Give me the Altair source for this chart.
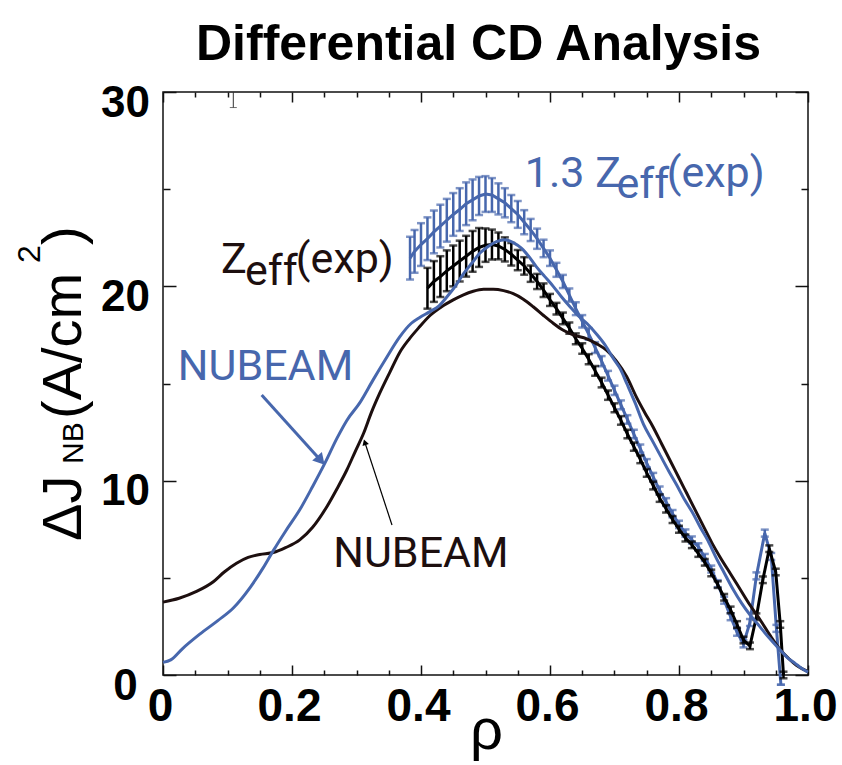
import altair as alt
import pandas as pd

# ---------------- data ----------------
nb_blue_rho = [0.0, 0.012, 0.03, 0.057, 0.085, 0.109, 0.135, 0.155, 0.171, 0.19, 0.212, 0.232, 0.251, 0.27,
               0.285, 0.305, 0.326, 0.346, 0.367, 0.385, 0.398, 0.414, 0.428, 0.44, 0.453, 0.466, 0.479, 0.491,
               0.504, 0.517, 0.53, 0.543, 0.556, 0.568, 0.579, 0.592, 0.605, 0.618, 0.631, 0.645, 0.657, 0.672,
               0.685, 0.698, 0.709, 0.719, 0.732, 0.745, 0.758, 0.771, 0.784, 0.796, 0.809, 0.822, 0.833, 0.845,
               0.858, 0.871, 0.884, 0.897, 0.91, 0.925, 0.94, 0.955, 0.968, 0.98, 0.99, 1.0]
nb_blue_j = [0.65, 0.78, 1.35, 2.1, 2.8, 3.45, 4.5, 5.5, 6.4, 7.4, 8.5, 9.7, 10.9, 12.2,
             13.1, 14.0, 15.2, 16.3, 17.4, 18.1, 18.4, 18.7, 19.0, 19.45, 20.0, 20.65, 21.2, 21.7,
             22.05, 22.3, 22.4, 22.25, 21.95, 21.5, 21.0, 20.5, 20.0, 19.45, 18.95, 18.45, 18.1, 17.55,
             17.0, 16.3, 15.75, 15.0, 14.0, 12.9, 12.1, 11.3, 10.5, 9.8, 9.0, 8.3, 7.6, 6.9,
             6.0, 5.2, 4.4, 3.7, 3.1, 2.5, 1.9, 1.35, 0.9, 0.6, 0.35, 0.15]

nb_black_rho = [0.0, 0.025, 0.052, 0.078, 0.095, 0.114, 0.132, 0.15, 0.171, 0.19, 0.212, 0.232, 0.254, 0.27,
                0.285, 0.298, 0.311, 0.323, 0.336, 0.352, 0.367, 0.382, 0.396, 0.414, 0.432, 0.45, 0.465,
                0.481, 0.497, 0.512, 0.528, 0.543, 0.558, 0.574, 0.59, 0.605, 0.62, 0.636, 0.657, 0.672,
                0.688, 0.703, 0.719, 0.734, 0.747, 0.76, 0.773, 0.786, 0.799, 0.812, 0.825, 0.838, 0.851,
                0.864, 0.88, 0.895, 0.91, 0.926, 0.941, 0.957, 0.97, 0.982, 0.992, 1.0]
nb_black_j = [3.75, 3.95, 4.3, 4.8, 5.3, 5.75, 6.05, 6.2, 6.3, 6.55, 6.95, 7.6, 8.66, 9.6,
              10.55, 11.5, 12.44, 13.5, 14.5, 15.6, 16.6, 17.3, 17.85, 18.5, 18.95, 19.3, 19.55,
              19.75, 19.85, 19.85, 19.78, 19.62, 19.35, 18.95, 18.5, 18.1, 17.75, 17.5, 17.3, 17.05,
              16.7, 16.15, 15.35, 14.3, 13.5, 12.75, 11.9, 11.05, 10.2, 9.35, 8.5, 7.65, 6.8,
              6.05, 5.2, 4.4, 3.6, 2.83, 2.05, 1.3, 0.85, 0.5, 0.3, 0.17]

exp_black_rho = [0.41, 0.42, 0.43, 0.44, 0.45, 0.46, 0.47, 0.48, 0.49, 0.50,
                 0.51, 0.52, 0.53, 0.54, 0.55, 0.56, 0.57, 0.58, 0.59, 0.60,
                 0.61, 0.62, 0.63, 0.64, 0.65, 0.66, 0.67, 0.68, 0.69, 0.70,
                 0.71, 0.72, 0.73, 0.74, 0.75, 0.76, 0.77, 0.78, 0.79, 0.80,
                 0.81, 0.82, 0.83, 0.84, 0.85, 0.86, 0.87, 0.88, 0.89, 0.90,
                 0.91, 0.92, 0.93, 0.94, 0.95, 0.957, 0.962]
exp_black_j = [19.9, 20.25, 20.5, 20.8, 21.05, 21.3, 21.55, 21.8, 22.0, 22.12,
               22.15, 22.08, 21.9, 21.65, 21.35, 21.05, 20.65, 20.25, 19.8, 19.3,
               18.85, 18.35, 17.85, 17.3, 16.8, 16.25, 15.65, 15.05, 14.4, 13.75,
               13.1, 12.4, 11.75, 11.1, 10.4, 9.75, 9.1, 8.55, 8.0, 7.5,
               7.05, 6.7, 6.25, 5.8, 5.25, 4.65, 4.0, 3.35, 2.6, 1.8,
               1.5, 3.0, 4.9, 6.5, 5.3, 2.6, 0.0]
exp_black_err = [1.05, 1.05, 1.05, 1.05, 1.05, 1.05, 1.05, 1.05, 1.0, 0.86,
                 0.77, 0.69, 0.62, 0.58, 0.52, 0.45, 0.42, 0.39, 0.35, 0.31,
                 0.3, 0.3, 0.29, 0.28, 0.27, 0.26, 0.25, 0.25, 0.24, 0.23,
                 0.22, 0.22, 0.21, 0.2, 0.2, 0.2, 0.19, 0.19, 0.18, 0.18,
                 0.18, 0.17, 0.17, 0.17, 0.17, 0.17, 0.17, 0.17, 0.17, 0.17,
                 0.17, 0.17, 0.17, 0.17, 0.17, 0.17, 0.17]

exp_blue_rho = [0.383, 0.39, 0.40, 0.41, 0.42, 0.43, 0.44, 0.45, 0.46, 0.47,
                0.48, 0.49, 0.50, 0.51, 0.52, 0.53, 0.54, 0.55, 0.56, 0.57,
                0.58, 0.59, 0.60, 0.61, 0.62, 0.63, 0.64, 0.65, 0.66, 0.67,
                0.68, 0.69, 0.70, 0.71, 0.72, 0.73, 0.74, 0.75, 0.76, 0.77,
                0.78, 0.79, 0.80, 0.81, 0.82, 0.83, 0.84, 0.85, 0.86, 0.87,
                0.88, 0.89, 0.90, 0.91, 0.92, 0.933, 0.943, 0.951, 0.958]
exp_blue_j = [21.45, 21.8, 22.15, 22.45, 22.8, 23.1, 23.4, 23.7, 23.95, 24.25,
              24.45, 24.65, 24.75, 24.7, 24.5, 24.3, 24.0, 23.7, 23.3, 22.9,
              22.45, 21.95, 21.45, 20.85, 20.25, 19.55, 18.85, 18.2, 17.55, 16.85,
              16.15, 15.4, 14.65, 13.9, 13.15, 12.4, 11.65, 10.9, 10.2, 9.5,
              8.9, 8.3, 7.75, 7.3, 6.95, 6.6, 6.05, 5.45, 4.7, 3.85,
              3.0, 2.2, 1.6, 2.7, 5.1, 7.3, 6.1, 2.4, -0.5]
exp_blue_err = [1.1, 1.1, 1.1, 1.1, 1.1, 1.1, 1.1, 1.1, 1.1, 1.1,
                1.05, 0.98, 0.92, 0.87, 0.8, 0.75, 0.7, 0.69, 0.62, 0.57,
                0.52, 0.45, 0.4, 0.36, 0.34, 0.34, 0.33, 0.32, 0.3, 0.28,
                0.26, 0.25, 0.24, 0.23, 0.22, 0.22, 0.21, 0.21, 0.2, 0.2,
                0.2, 0.19, 0.19, 0.19, 0.18, 0.18, 0.18, 0.18, 0.18, 0.18,
                0.18, 0.18, 0.18, 0.18, 0.18, 0.18, 0.18, 0.18, 0.0]

stray_rho = [0.109]
stray_lo = [29.2]
stray_hi = [30.0]

x_tick_values = [0.0, 0.05, 0.1, 0.15, 0.2, 0.25, 0.3, 0.35, 0.4, 0.45, 0.5,
                 0.55, 0.6, 0.65, 0.7, 0.75, 0.8, 0.85, 0.9, 0.95, 1.0]
y_tick_values = [0, 5, 10, 15, 20, 25, 30]

title_text = ["Differential CD Analysis"]

# annotation anchors (data coordinates)
blue_arrow_rho = [0.153, 0.2447]
blue_arrow_j = [14.41, 11.04]
black_arrow_rho = [0.355, 0.3129]
black_arrow_j = [7.72, 11.98]

# ---------------- styling ----------------
BLUE = "#4767ad"
DARK = "#1d0f0f"
W, H = 645, 583
TICK_FONT = "Liberation Sans, Arial, sans-serif"
ANN_FONT = "Roboto, Open Sans, sans-serif"

x_scale = alt.Scale(domain=[0, 1], nice=False, zero=False)
y_scale = alt.Scale(domain=[0, 30], nice=False, zero=False)

MAJ_X = "abs(datum.value*5 - round(datum.value*5)) < 0.001"
MAJ_Y = "abs(datum.value/10 - round(datum.value/10)) < 0.001"

x_axis = alt.Axis(
    values=x_tick_values,
    labelExpr=f"{MAJ_X} ? (datum.value < 0.001 ? '0' : format(datum.value, '.1f')) : ''",
    tickSize={"expr": f"{MAJ_X} ? -10 : -5"},
    tickColor="#111111", tickWidth=1.5,
    domain=False, grid=False,
    labelFont=TICK_FONT, labelFontWeight="bold", labelFontSize=46, labelColor="black",
    labelPadding=19, labelOffset=-3, labelFlush=False, labelOverlap=False,
    title="ρ", titleFont=TICK_FONT, titleFontWeight="normal", titleFontSize=58,
    titleColor="black", titleX=323, titleY=73, titleBaseline="alphabetic", titleAlign="center",
)
y_axis = alt.Axis(
    values=y_tick_values,
    labelExpr=f"{MAJ_Y} ? datum.label : ''",
    tickSize={"expr": f"{MAJ_Y} ? -13 : -7"},
    tickColor="#111111", tickWidth=1.5,
    domain=False, grid=False,
    labelFont=TICK_FONT, labelFontWeight="bold", labelFontSize=44, labelColor="black",
    labelAlign="center", labelPadding=51, labelOffset=11, labelFlush=False, labelOverlap=False,
    title=None,
)
x_top_axis = alt.Axis(orient="top", values=x_tick_values, labels=False, domain=False, grid=False,
                      tickSize={"expr": f"{MAJ_X} ? -10 : -5"}, tickColor="#111111", tickWidth=1.5,
                      title=None)
y_right_axis = alt.Axis(orient="right", values=y_tick_values, labels=False, domain=False, grid=False,
                        tickSize={"expr": f"{MAJ_Y} ? -13 : -7"}, tickColor="#111111", tickWidth=1.5,
                        title=None)

X = alt.X("rho:Q", scale=x_scale, axis=x_axis)
Y = alt.Y("j:Q", scale=y_scale, axis=y_axis)

# ---------------- frames ----------------
df_nb_blue = pd.DataFrame({"rho": nb_blue_rho, "j": nb_blue_j})
df_nb_black = pd.DataFrame({"rho": nb_black_rho, "j": nb_black_j})
df_exp_black = pd.DataFrame({"rho": exp_black_rho, "j": exp_black_j, "err": exp_black_err})
df_exp_blue = pd.DataFrame({"rho": exp_blue_rho, "j": exp_blue_j, "err": exp_blue_err})
for d in (df_exp_black, df_exp_blue):
    d["lo"] = d["j"] - d["err"]
    d["hi"] = d["j"] + d["err"]
df_stray = pd.DataFrame({"rho": stray_rho, "lo": stray_lo, "hi": stray_hi})


def exp_series(df, color):
    base = alt.Chart(df)
    line = base.mark_line(color=color, strokeWidth=3).encode(x=X, y=Y)
    bars = base.mark_rule(color=color, strokeWidth=2.5).encode(
        x=X, y=alt.Y("lo:Q", scale=y_scale, axis=y_axis), y2="hi:Q")
    cap_lo = base.mark_tick(color=color, orient="horizontal", size=8, thickness=2.5).encode(
        x=X, y=alt.Y("lo:Q", scale=y_scale, axis=y_axis))
    cap_hi = base.mark_tick(color=color, orient="horizontal", size=8, thickness=2.5).encode(
        x=X, y=alt.Y("hi:Q", scale=y_scale, axis=y_axis))
    return [line, bars, cap_lo, cap_hi]


nb_black_line = alt.Chart(df_nb_black).mark_line(color=DARK, strokeWidth=3, interpolate="monotone").encode(x=X, y=Y)
nb_blue_line = alt.Chart(df_nb_blue).mark_line(color=BLUE, strokeWidth=3, interpolate="monotone").encode(x=X, y=Y)

stray = alt.Chart(df_stray).mark_rule(color="#333333", strokeWidth=1).encode(
    x=X, y=alt.Y("lo:Q", scale=y_scale, axis=y_axis), y2="hi:Q")
stray_cap = alt.Chart(df_stray).mark_tick(color="#333333", orient="horizontal", size=7, thickness=1).encode(
    x=X, y=alt.Y("lo:Q", scale=y_scale, axis=y_axis))

# arrows
df_barrow = pd.DataFrame({"rho": blue_arrow_rho, "j": blue_arrow_j})
df_karrow = pd.DataFrame({"rho": black_arrow_rho, "j": black_arrow_j})
blue_arrow = alt.Chart(df_barrow).mark_line(color=BLUE, strokeWidth=3).encode(x=X, y=Y)
blue_head = alt.Chart(df_barrow.iloc[[1]]).mark_point(
    shape="triangle-up", filled=True, color=BLUE, opacity=1, size=170, angle=138).encode(x=X, y=Y)
black_arrow = alt.Chart(df_karrow).mark_line(color="black", strokeWidth=1.2).encode(x=X, y=Y)
black_head = alt.Chart(df_karrow.iloc[[1]]).mark_point(
    shape="triangle-up", filled=True, color="black", opacity=1, size=45, angle=342).encode(x=X, y=Y)

# annotation texts
df_txt_blue = pd.DataFrame({
    "rho": [0.023, 0.561, 0.703, 0.781],
    "j": [15.18, 25.13, 24.53, 25.13],
    "t": ["NUBEAM", "1.3 Z", "eff", "(exp)"],
})
df_txt_black = pd.DataFrame({
    "rho": [0.264, 0.09, 0.127, 0.206],
    "j": [5.57, 20.7, 20.07, 20.7],
    "t": ["NUBEAM", "Z", "eff", "(exp)"],
})
txt_blue = alt.Chart(df_txt_blue).mark_text(
    align="left", baseline="alphabetic", font=ANN_FONT, fontSize=43, color=BLUE).encode(x=X, y=Y, text="t:N")
txt_black = alt.Chart(df_txt_black).mark_text(
    align="left", baseline="alphabetic", font=ANN_FONT, fontSize=43, color=DARK).encode(x=X, y=Y, text="t:N")

# y-axis title pieces (rotated), ΔJ_NB (A/cm²)
def ytitle(text, x, y, size):
    return alt.Chart(pd.DataFrame({"t": [text]})).mark_text(
        angle=270, align="left", baseline="alphabetic", font=TICK_FONT, fontSize=size, color="black"
    ).encode(x=alt.value(x), y=alt.value(y), text="t:N")

yt = [
    ytitle("ΔJ", -82, 449, 56),
    ytitle("NB", -80, 372, 30),
    ytitle("(A/cm", -82, 327, 56),
    ytitle("2", -123, 171, 32),
    ytitle(")", -82, 153, 56),
]

# chart title drawn as a text mark above the plot area
title_mark = alt.Chart(pd.DataFrame({"t": title_text})).mark_text(
    align="center", baseline="alphabetic", font=TICK_FONT, fontSize=50, fontWeight="bold", color="black"
).encode(x=alt.value(315.5), y=alt.value(-32), text="t:N")

main = alt.layer(
    *exp_series(df_exp_blue, BLUE),
    *exp_series(df_exp_black, "black"),
    nb_black_line, nb_blue_line,
    stray, stray_cap,
    blue_arrow, blue_head, black_arrow, black_head,
    txt_blue, txt_black,
    *yt,
    title_mark,
)

frame_ticks = alt.Chart(df_nb_blue).mark_line(opacity=0).encode(
    x=alt.X("rho:Q", scale=x_scale, axis=x_top_axis),
    y=alt.Y("j:Q", scale=y_scale, axis=y_right_axis),
)

chart = alt.layer(main, frame_ticks).resolve_scale(
    x="independent", y="independent"
).properties(
    width=W, height=H,
    autosize=alt.AutoSizeParams(type="none"),
    padding={"left": 163, "top": 92, "right": 34, "bottom": 90},
    background="white",
).configure_view(stroke="#111111", strokeWidth=1.5)

chart.save("out.html", embed_options={"renderer": "svg", "actions": False})
